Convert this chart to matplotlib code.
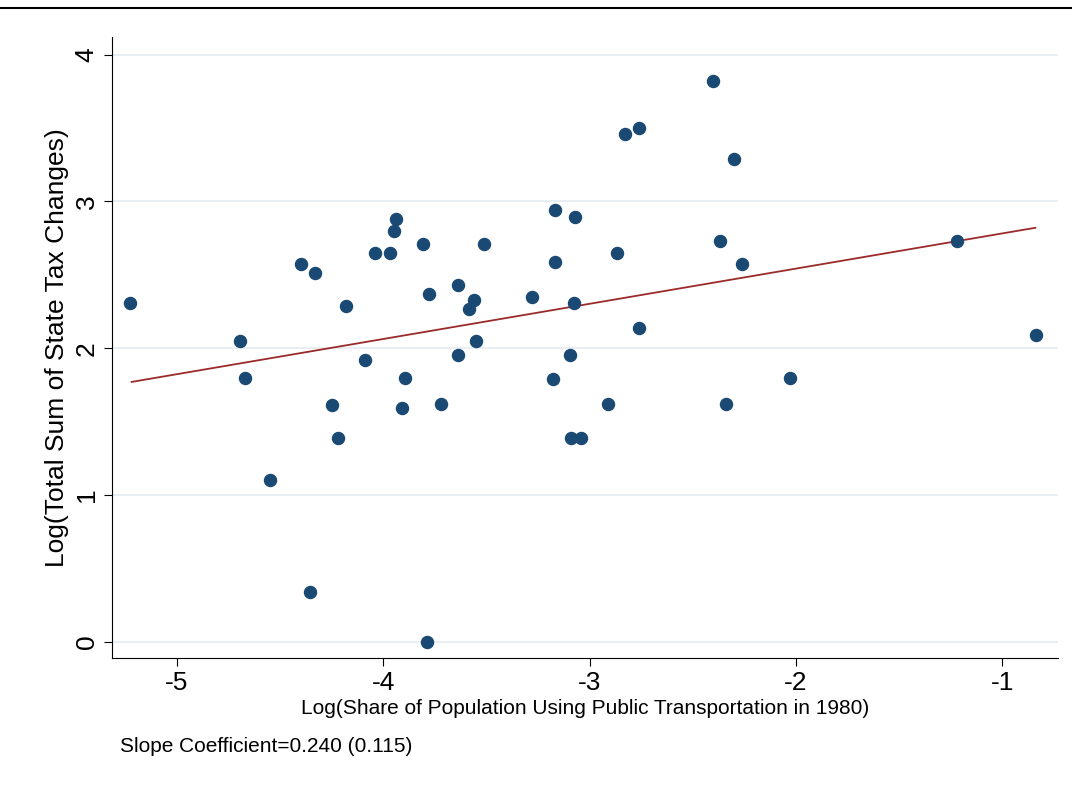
import numpy as np
import matplotlib.pyplot as plt
from matplotlib.lines import Line2D

plt.rcParams["font.family"] = ["Liberation Sans", "DejaVu Sans"]
plt.rcParams["axes.unicode_minus"] = False

x_vals = [-5.228, -4.695, -4.67, -4.55, -4.40, -4.33, -4.355, -4.25, -4.22, -4.18,
          -4.09, -4.04, -3.97, -3.95, -3.94, -3.895, -3.91, -3.81, -3.79, -3.78,
          -3.72, -3.64, -3.64, -3.585, -3.56, -3.55, -3.51, -3.28, -3.18, -3.17,
          -3.17, -3.095, -3.09, -3.075, -3.07, -3.04, -2.91, -2.87, -2.83, -2.76,
          -2.76, -2.40, -2.37, -2.34, -2.30, -2.26, -2.03, -1.22, -0.835]
y_vals = [2.31, 2.05, 1.80, 1.10, 2.57, 2.51, 0.34, 1.61, 1.39, 2.29,
          1.92, 2.65, 2.65, 2.80, 2.88, 1.80, 1.59, 2.71, 0.00, 2.37,
          1.62, 2.43, 1.95, 2.27, 2.33, 2.05, 2.71, 2.35, 1.79, 2.94,
          2.59, 1.95, 1.39, 2.31, 2.89, 1.39, 1.62, 2.65, 3.46, 3.50,
          2.14, 3.82, 2.73, 1.62, 3.29, 2.57, 1.80, 2.73, 2.09]
line_x = [-5.22, -0.84]
line_y = [1.77, 2.82]

fig = plt.figure(figsize=(10.72, 7.86), dpi=100)
ax = fig.add_axes([0.1045, 0.163, 0.8825, 0.79])
ax.scatter(x_vals, y_vals, s=75, color="#1a4a73", zorder=3)
ax.plot(line_x, line_y, color="#9b2a2a", lw=1.3, zorder=2)

ax.set_xlim(-5.315, -0.73)
ax.set_ylim(-0.11, 4.12)
ax.set_xticks([-5, -4, -3, -2, -1])
ax.set_yticks([0, 1, 2, 3, 4])
ax.set_yticklabels(["0", "1", "2", "3", "4"], rotation=90, va="center")
ax.tick_params(labelsize=19, length=6)
ax.grid(axis="y", color="#e8eef2", lw=1.5)
ax.set_axisbelow(True)
for s in ["top", "right"]:
    ax.spines[s].set_visible(False)
ax.set_ylabel("Log(Total Sum of State Tax Changes)", fontsize=19, labelpad=4)
ax.set_xlabel("Log(Share of Population Using Public Transportation in 1980)", fontsize=15, labelpad=3)
fig.text(120 / 1072, 1 - 746 / 786, "Slope Coefficient=0.240 (0.115)", fontsize=15, va="center")
fig.add_artist(Line2D([0, 1], [1 - 8 / 786] * 2, color="black", lw=1.5))

fig.savefig("out.png", dpi=100)
